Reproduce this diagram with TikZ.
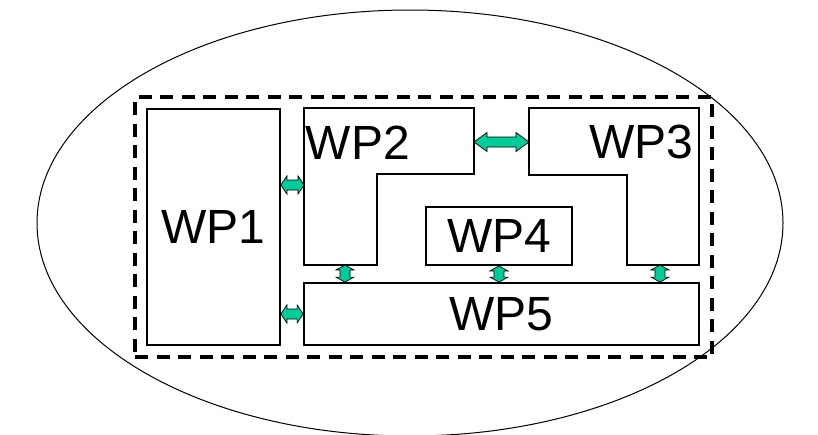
\documentclass[tikz,border=0pt]{standalone}
\usepackage{fontspec}
\setmainfont{Liberation Sans}
\usetikzlibrary{calc}
\definecolor{arrowgreen}{RGB}{0,204,153}
\tikzset{
  wpbox/.style={draw=black, line width=1.8pt, fill=white, inner sep=0pt, font=\fontsize{48}{48}\selectfont},
  wptext/.style={inner sep=0pt, font=\fontsize{48}{48}\selectfont},
  lshape/.style={draw=black, line width=1.8pt, line join=miter},
  barrow/.style={draw=black, line width=0.7pt, fill=arrowgreen, line join=miter},
  framebox/.style={draw=black, line width=3.5pt, dash pattern=on 13pt off 8.5pt, inner sep=0pt},
}
\newcommand{\hblockarrow}[5]{\draw[barrow] let \p1=(#1), \p2=(#2) in (\x1,\y1) -- (\x1+#5,\y1+#4) -- (\x1+#5,\y1+#3) -- (\x2-#5,\y1+#3) -- (\x2-#5,\y1+#4) -- (\x2,\y1) -- (\x2-#5,\y1-#4) -- (\x2-#5,\y1-#3) -- (\x1+#5,\y1-#3) -- (\x1+#5,\y1-#4) -- cycle;}
\newcommand{\vblockarrow}[5]{\draw[barrow] let \p1=(#1), \p2=(#2) in (\x1,\y1) -- (\x1+#4,\y1-#5) -- (\x1+#3,\y1-#5) -- (\x1+#3,\y2+#5) -- (\x1+#4,\y2+#5) -- (\x1,\y2) -- (\x1-#4,\y2+#5) -- (\x1-#3,\y2+#5) -- (\x1-#3,\y1-#5) -- (\x1-#4,\y1-#5) -- cycle;}
\begin{document}
\begin{tikzpicture}[x=1pt, y=-1pt]
\useasboundingbox (0,0) rectangle (818,434);
\clip (0,0) rectangle (818,434);
% outer ellipse
\draw[line width=1pt] (410,223) ellipse [x radius=373, y radius=213];
% dashed frame
\node[framebox, minimum width=577pt, minimum height=260pt] (frame) at (423.5,227) {};
% WP1, WP4, WP5
\node[wpbox, minimum width=133pt, minimum height=236pt] (wp1) at (213.5,227) {WP1};
\node[wpbox, minimum width=146pt, minimum height=58pt] (wp4) at (499,236) {WP4};
\node[wpbox, minimum width=395pt, minimum height=62pt] (wp5) at (501.5,314) {WP5};
% WP2 (L shape)
\draw[lshape] (304,108) -- (474,108) -- (474,174) -- (377,174) -- (377,265) -- (304,265) -- cycle;
\node[wptext] (wp2) at (358,143) {WP2};
% WP3 (L shape)
\draw[lshape] (529,108) -- (699,108) -- (699,265) -- (627,265) -- (627,175) -- (529,175) -- cycle;
\node[wptext] (wp3) at (641,142) {WP3};
% anchor points on the L shapes
\coordinate (wp2w) at (304,185);
\coordinate (wp2e) at (474,142);
\coordinate (wp3w) at (529,142);
\coordinate (wp2s) at (345,265);
\coordinate (wp3s) at (660,265);
% block arrows
\hblockarrow{wp1.east |- wp2w}{wp2w}{5pt}{9pt}{6pt}
\hblockarrow{wp1.east |- wp5.west}{wp5.west}{5pt}{9pt}{6pt}
\hblockarrow{wp2e}{wp3w}{5pt}{9.5pt}{13pt}
\vblockarrow{wp2s}{wp2s |- wp5.north}{5pt}{9pt}{5pt}
\vblockarrow{wp4.south}{wp4.south |- wp5.north}{5pt}{9pt}{5pt}
\vblockarrow{wp3s}{wp3s |- wp5.north}{5pt}{9pt}{5pt}
\end{tikzpicture}
\end{document}
